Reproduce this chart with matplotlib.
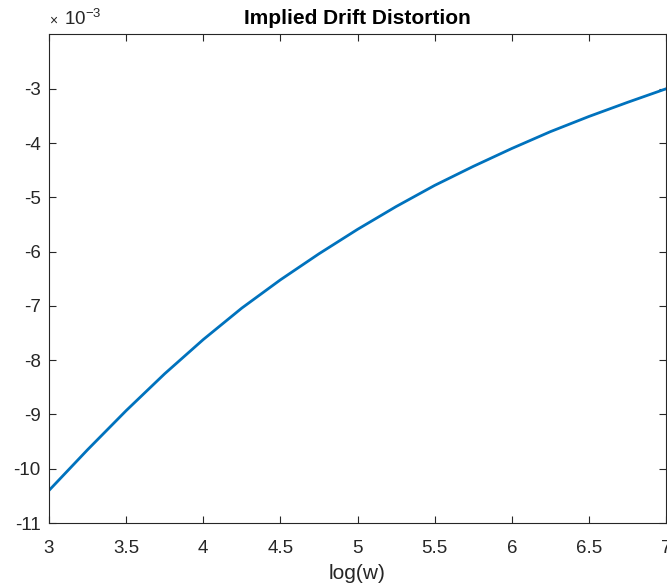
import numpy as np
import matplotlib
matplotlib.use("Agg")
import matplotlib.pyplot as plt

# log(w) grid and implied drift distortion (units of 1e-3)
log_w = [3.0, 3.25, 3.5, 3.75, 4.0, 4.25, 4.5, 4.75, 5.0,
         5.25, 5.5, 5.75, 6.0, 6.25, 6.5, 6.75, 7.0]
drift = [-10.40, -9.65, -8.93, -8.25, -7.62, -7.04, -6.52, -6.04, -5.59,
         -5.17, -4.78, -4.43, -4.10, -3.79, -3.51, -3.25, -3.00]

x_ticks = [3, 3.5, 4, 4.5, 5, 5.5, 6, 6.5, 7]
y_ticks = [-11, -10, -9, -8, -7, -6, -5, -4, -3]

plt.rcParams['font.family'] = ['Liberation Sans', 'DejaVu Sans']
plt.rcParams['mathtext.default'] = 'regular'

fig = plt.figure(figsize=(6.67, 5.85), dpi=100)
ax = fig.add_axes([49 / 667, 62 / 585, 617 / 667, 489 / 585])

ax.plot(log_w, drift, color='#0072BD', linewidth=2.0)

ax.set_xlim(3, 7)
ax.set_ylim(-11, -1.99)
ax.set_xticks(x_ticks)
ax.set_xticklabels([f"{t:g}" for t in x_ticks])
ax.set_yticks(y_ticks)
ax.set_yticklabels([f"{t:g}" for t in y_ticks])

axis_col = '#262626'
for s in ax.spines.values():
    s.set_color(axis_col)
    s.set_linewidth(0.8)
ax.tick_params(direction='in', length=5, width=0.8, colors=axis_col,
               labelsize=13.5, top=True, right=True)
ax.tick_params(axis='x', pad=12)
ax.tick_params(axis='y', pad=6)

ax.set_title("Implied Drift Distortion", fontsize=15, fontweight='bold', pad=7)
ax.set_xlabel("log(w)", fontsize=15, color=axis_col, labelpad=5)
ax.text(0.0, 1.012, "×", transform=ax.transAxes,
        fontsize=10, color=axis_col, ha='left', va='bottom')
ax.text(0.025, 1.01, "10$^{-3}$", transform=ax.transAxes,
        fontsize=13.5, color=axis_col, ha='left', va='bottom')

fig.savefig("out.png", dpi=100)
